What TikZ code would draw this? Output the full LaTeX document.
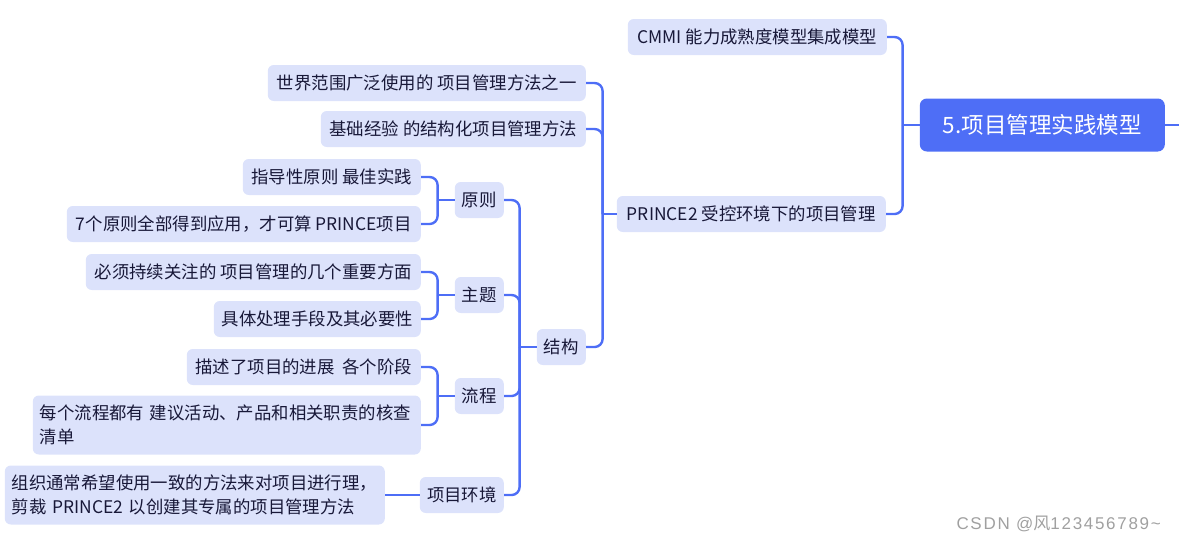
\documentclass[tikz,border=0pt]{standalone}
\usepackage{fontspec}
\setmainfont{Noto Sans CJK SC}
\newfontfamily\wmfont[LetterSpace=10]{Liberation Sans}
\definecolor{linec}{RGB}{78,110,246}
\definecolor{boxc}{RGB}{220,226,251}
\definecolor{txtc}{RGB}{24,24,56}
\definecolor{wmc}{RGB}{160,160,160}
\tikzset{
  box/.style={draw=none, fill=boxc, rounded corners=6pt, minimum height=36pt, inner xsep=7pt, inner ysep=4pt, text=txtc, font=\fontsize{17.4}{24}\selectfont, anchor=east},
  rootbox/.style={draw=none, fill=linec, rounded corners=7pt, minimum height=53pt, minimum width=245pt, text=white, font=\fontsize{22.5}{27}\selectfont, anchor=east},
  conn/.style={draw=linec, line width=2.4pt, rounded corners=8pt},
  straight/.style={draw=linec, line width=2.4pt}
}
\begin{document}
\begin{tikzpicture}[x=1pt,y=-1pt]
\useasboundingbox (0,0) rectangle (1179,542);
% root
\node[rootbox] (root) at (1165,125) {5.项目管理实践模型};
\node[box, minimum width=259pt] (cmmi) at (887,37) {CMMI 能力成熟度模型集成模型};
\node[box, minimum width=269pt] (prince) at (886,214) {PRINCE2 受控环境下的项目管理};
% level 2
\node[box, minimum width=318pt] (world) at (586,83) {世界范围广泛使用的 项目管理方法之一};
\node[box, minimum width=265pt] (base) at (586,129) {基础经验 的结构化项目管理方法};
\node[box, minimum width=49pt, inner xsep=4pt] (struct) at (586,347) {结构};
% level 3
\node[box, minimum width=49pt, inner xsep=4pt] (yuanze) at (504,200) {原则};
\node[box, minimum width=49pt, inner xsep=4pt] (zhuti) at (504,295) {主题};
\node[box, minimum width=49pt, inner xsep=4pt] (liucheng) at (504,396) {流程};
\node[box, minimum width=84pt, inner xsep=4pt] (huanjing) at (504,495) {项目环境};
% level 4
\node[box, minimum width=178pt] (zhidao) at (421,177) {指导性原则 最佳实践};
\node[box, minimum width=354pt] (qige) at (421,224) {7个原则全部得到应用，才可算 PRINCE项目};
\node[box, minimum width=335pt] (bixu) at (421,272) {必须持续关注的 项目管理的几个重要方面};
\node[box, minimum width=207pt] (juti) at (421,319) {具体处理手段及其必要性};
\node[box, minimum width=234pt] (miaoshu) at (421,367) {描述了项目的进展\ \ 各个阶段};
\node[box, text width=374pt, align=left, minimum height=59pt] (meige) at (421,425) {每个流程都有 建议活动、产品和相关职责的核查\\清单};
\node[box, text width=366pt, align=left, minimum height=59pt] (zuzhi) at (385,495) {组织通常希望使用一致的方法来对项目进行理，\\剪裁 PRINCE2 以创建其专属的项目管理方法};
% trunk coordinates
\coordinate (t0) at ([xshift=-17pt]root.west);
\coordinate (t1) at ([xshift=-14pt]prince.west);
\coordinate (t2) at ([xshift=-17pt]struct.west);
\coordinate (t3) at ([xshift=-17pt]yuanze.west);
\coordinate (t4) at ([xshift=-17pt]zhuti.west);
\coordinate (t5) at ([xshift=-17pt]liucheng.west);
\coordinate (rout) at (1182,125);
% connectors
\draw[straight] (root.east) -- (rout);
\draw[straight] (root.west) -- (t0);
\draw[conn] (t0) |- (cmmi.east);
\draw[conn] (t0) |- (prince.east);
\draw[straight] (prince.west) -- (t1);
\draw[conn] (t1) |- (world.east);
\draw[conn] (t1) |- (base.east);
\draw[conn] (t1) |- (struct.east);
\draw[straight] (struct.west) -- (t2);
\draw[conn] (t2) |- (yuanze.east);
\draw[conn] (t2) |- (zhuti.east);
\draw[conn] (t2) |- (liucheng.east);
\draw[conn] (t2) |- (huanjing.east);
\draw[straight] (yuanze.west) -- (t3);
\draw[conn] (t3) |- (zhidao.east);
\draw[conn] (t3) |- (qige.east);
\draw[straight] (zhuti.west) -- (t4);
\draw[conn] (t4) |- (bixu.east);
\draw[conn] (t4) |- (juti.east);
\draw[straight] (liucheng.west) -- (t5);
\draw[conn] (t5) |- (miaoshu.east);
\draw[conn] (t5) |- (meige.east);
\draw[straight] (huanjing.west) -- (zuzhi.east);
% watermark
\node[text=wmc, font=\fontsize{17}{20}\selectfont, anchor=east, inner sep=0pt] (wm) at (1161,524) {{\wmfont CSDN @}风{\wmfont 123456789\textasciitilde}};
\end{tikzpicture}
\end{document}
